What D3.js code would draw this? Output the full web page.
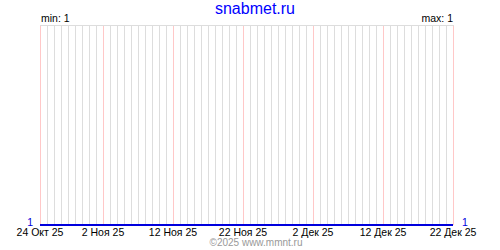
<!DOCTYPE html>
<html>
<head>
<meta charset="utf-8">
<script src="https://cdn.jsdelivr.net/npm/d3@7"></script>
<style>
  body { margin: 0; background: #fff; }
  svg text { font-family: "Liberation Sans", Arial, sans-serif; }
</style>
</head>
<body>
<svg id="chart" width="500" height="250"></svg>
<script>
var title = "snabmet.ru";
var footer = "\u00a92025 www.mmnt.ru";
var startDate = "2025-10-24";
// one reading per day, 24 Oct .. 22 Dec
var values = [1, 1, 1, 1, 1, 1, 1, 1, 1, 1,
              1, 1, 1, 1, 1, 1, 1, 1, 1, 1,
              1, 1, 1, 1, 1, 1, 1, 1, 1, 1,
              1, 1, 1, 1, 1, 1, 1, 1, 1, 1,
              1, 1, 1, 1, 1, 1, 1, 1, 1, 1,
              1, 1, 1, 1, 1, 1, 1, 1, 1, 1];
var tickDates = ["2025-10-24", "2025-11-02", "2025-11-12", "2025-11-22", "2025-12-02", "2025-12-12", "2025-12-22"];
var tickLabels = ["24 Окт 25", "2 Ноя 25", "12 Ноя 25", "22 Ноя 25", "2 Дек 25", "12 Дек 25", "22 Дек 25"];

var parse = d3.utcParse("%Y-%m-%d");
var t0 = parse(startDate);
var data = values.map(function(v, i) {
    return { date: d3.utcDay.offset(t0, i), value: v };
});
var ticks = tickDates.map(parse);
var tEnd = ticks[ticks.length - 1];

var svg = d3.select("#chart");
var plotLeft = 40, plotRight = 453, plotTop = 25, plotBottom = 225;

var x = d3.scaleUtc()
    .domain([t0, tEnd])
    .range([plotLeft, plotRight]);
var minV = d3.min(values), maxV = d3.max(values);
var y = d3.scaleLinear()
    .domain([minV, maxV + 1])
    .range([plotBottom, plotTop]);

// day grid
svg.append("g").selectAll("line")
    .data(d3.utcDay.range(t0, d3.utcDay.offset(tEnd, 1)))
    .enter().append("line")
    .attr("x1", function(d) { return Math.round(x(d)) + 0.5; })
    .attr("x2", function(d) { return Math.round(x(d)) + 0.5; })
    .attr("y1", plotTop)
    .attr("y2", plotBottom)
    .attr("stroke", "#dddddd");

// label grid
svg.append("g").selectAll("line")
    .data(ticks)
    .enter().append("line")
    .attr("x1", function(d) { return Math.round(x(d)) + 0.5; })
    .attr("x2", function(d) { return Math.round(x(d)) + 0.5; })
    .attr("y1", plotTop)
    .attr("y2", plotBottom)
    .attr("stroke", "#ffc8c8");

svg.append("line")
    .attr("x1", plotLeft).attr("x2", plotRight + 1)
    .attr("y1", plotTop + 0.5).attr("y2", plotTop + 0.5)
    .attr("stroke", "#dddddd");

// series
svg.append("path")
    .datum(data)
    .attr("fill", "none")
    .attr("stroke", "#0000dd")
    .attr("stroke-width", 2)
    .attr("d", d3.line()
        .x(function(d) { return x(d.date); })
        .y(function(d) { return y(d.value); }));

// x labels
svg.append("g").selectAll("text")
    .data(ticks)
    .enter().append("text")
    .attr("x", function(d) { return x(d); })
    .attr("y", 236)
    .attr("text-anchor", "middle")
    .attr("font-size", 10.5)
    .attr("fill", "#000")
    .text(function(d, i) { return tickLabels[i]; });

// y value labels
svg.append("text")
    .attr("x", plotLeft - 7).attr("y", y(values[0]) + 1)
    .attr("text-anchor", "end")
    .attr("font-size", 10.5)
    .attr("fill", "#0000dd")
    .text(values[0]);
svg.append("text")
    .attr("x", plotRight + 9).attr("y", y(values[values.length - 1]) + 1)
    .attr("text-anchor", "start")
    .attr("font-size", 10.5)
    .attr("fill", "#0000dd")
    .text(values[values.length - 1]);

svg.append("text")
    .attr("x", plotLeft + 1).attr("y", 22)
    .attr("font-size", 10.5)
    .text("min: " + minV);
svg.append("text")
    .attr("x", plotRight).attr("y", 22)
    .attr("text-anchor", "end")
    .attr("font-size", 10.5)
    .text("max: " + maxV);

svg.append("text")
    .attr("x", 255).attr("y", 14)
    .attr("text-anchor", "middle")
    .attr("font-size", 16)
    .attr("fill", "#0000ff")
    .text(title);

svg.append("text")
    .attr("x", 256).attr("y", 246)
    .attr("text-anchor", "middle")
    .attr("font-size", 10)
    .attr("fill", "#999999")
    .text(footer);
</script>
</body>
</html>
